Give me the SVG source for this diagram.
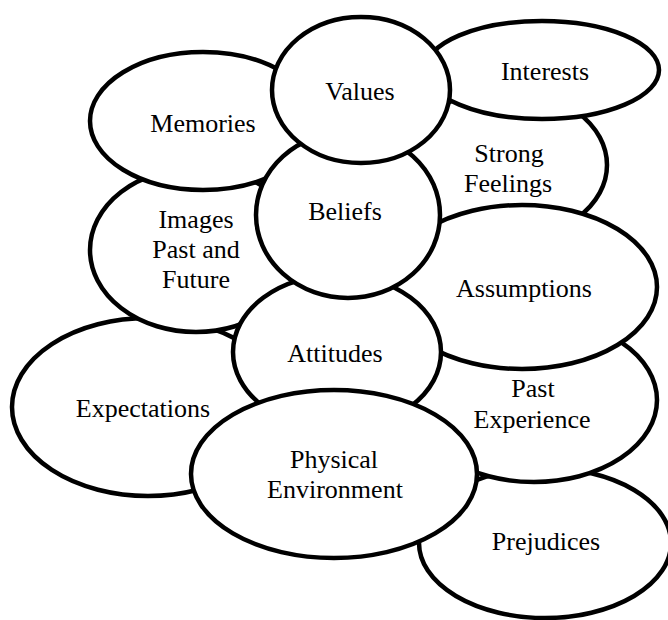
<svg xmlns="http://www.w3.org/2000/svg" width="668" height="620" viewBox="0 0 668 620">
  <style>
    .bubble ellipse { fill: #ffffff; stroke: #000000; stroke-width: 4.5; }
  </style>
  <rect width="668" height="620" fill="#ffffff"/>
  <!-- overlapping bubbles, drawn back to front -->
  <g id="connectors"></g>
  <g font-family="Liberation Serif, Times New Roman, serif" font-size="26" fill="#000000" text-anchor="middle">
  <g id="prejudices" class="bubble">
    <ellipse cx="545" cy="543" rx="126" ry="75"/>
    <text x="546" y="550">Prejudices</text>
  </g>
  <g id="past-experience" class="bubble">
    <ellipse cx="534" cy="400" rx="123" ry="82"/>
    <text x="533" y="397">Past</text>
    <text x="532" y="428">Experience</text>
  </g>
  <g id="strong-feelings" class="bubble">
    <ellipse cx="505" cy="165" rx="102" ry="75"/>
    <text x="509" y="162">Strong</text>
    <text x="508" y="192">Feelings</text>
  </g>
  <g id="assumptions" class="bubble">
    <ellipse cx="522" cy="287" rx="135" ry="82"/>
    <text x="524" y="297">Assumptions</text>
  </g>
  <g id="expectations" class="bubble">
    <ellipse cx="148" cy="407" rx="136" ry="89"/>
    <text x="143" y="417">Expectations</text>
  </g>
  <g id="images" class="bubble">
    <ellipse cx="196" cy="250" rx="106" ry="82"/>
    <text x="196" y="228">Images</text>
    <text x="196" y="258">Past and</text>
    <text x="196" y="288">Future</text>
  </g>
  <g id="memories" class="bubble">
    <ellipse cx="203" cy="121" rx="113" ry="69"/>
    <text x="203" y="132">Memories</text>
  </g>
  <g id="interests" class="bubble">
    <ellipse cx="542" cy="70" rx="117" ry="49"/>
    <text x="545" y="80">Interests</text>
  </g>
  <g id="attitudes" class="bubble">
    <ellipse cx="337" cy="352" rx="104" ry="77"/>
    <text x="335" y="362">Attitudes</text>
  </g>
  <g id="physical-environment" class="bubble">
    <ellipse cx="334" cy="474" rx="143" ry="84"/>
    <text x="334" y="468">Physical</text>
    <text x="335" y="498">Environment</text>
  </g>
  <g id="beliefs" class="bubble">
    <ellipse cx="348" cy="215" rx="92" ry="83"/>
    <text x="345" y="220">Beliefs</text>
  </g>
  <g id="values" class="bubble">
    <ellipse cx="361" cy="90" rx="89" ry="73"/>
    <text x="360" y="100">Values</text>
  </g>
  </g>
</svg>
